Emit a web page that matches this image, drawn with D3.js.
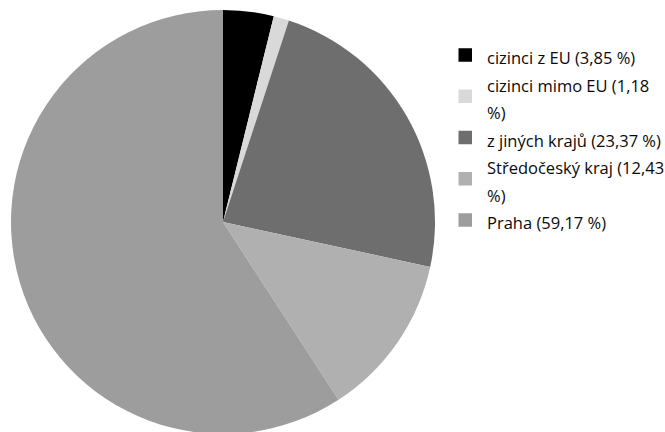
<!DOCTYPE html>
<html><head><meta charset="utf-8">
<script src="https://cdn.jsdelivr.net/npm/d3@7"></script>
<style>body{margin:0;background:#fff}svg{display:block}</style>
</head><body>
<svg id="c" width="665" height="432"></svg>
<script>
const categories = ["cizinci z EU", "cizinci mimo EU", "z jiných krajů", "Středočeský kraj", "Praha"];
const values = [3.85, 1.18, 23.37, 12.43, 59.17];
const labels = ["cizinci z EU (3,85 %)", "cizinci mimo EU (1,18 %)", "z jiných krajů (23,37 %)", "Středočeský kraj (12,43 %)", "Praha (59,17 %)"];
const colors = ["#000000", "#d9d9d9", "#6e6e6e", "#b0b0b0", "#9d9d9d"];

const svg = d3.select("#c");
const cx = 223, cy = 222, r = 212;
const pie = d3.pie().sort(null).value(d => d)(values);
const arc = d3.arc().innerRadius(0).outerRadius(r);
const g = svg.append("g").attr("transform", `translate(${cx},${cy})`);
g.selectAll("path").data(pie).join("path")
  .attr("d", arc).attr("fill", (d, i) => colors[i]);

// legend
const lx = 458.5, tx = 487, maxW = 178, lineH = 27.5, firstY = 64, sq = 13.5;
let line = 0;
const lg = svg.append("g").attr("font-family", "'Open Sans', sans-serif").attr("font-size", 16.5).attr("fill", "#0a0a0a");
labels.forEach((lab, i) => {
  const words = lab.split(" ");
  const lines = [];
  let cur = "";
  const meas = lg.append("text").attr("visibility", "hidden");
  words.forEach(w => {
    const test = cur ? cur + " " + w : w;
    meas.text(test);
    if (meas.node().getComputedTextLength() > maxW && cur) { lines.push(cur); cur = w; }
    else cur = test;
  });
  lines.push(cur);
  meas.remove();
  const y0 = firstY + line * lineH;
  const yMid = y0 + (lines.length - 1) * lineH / 2;
  lg.append("rect").attr("x", lx).attr("y", yMid - 9 - sq / 2).attr("width", sq).attr("height", sq).attr("fill", colors[i]);
  lines.forEach((t, k) => {
    lg.append("text").attr("x", tx).attr("y", y0 + k * lineH).text(t);
  });
  line += lines.length;
});
</script>
</body></html>
